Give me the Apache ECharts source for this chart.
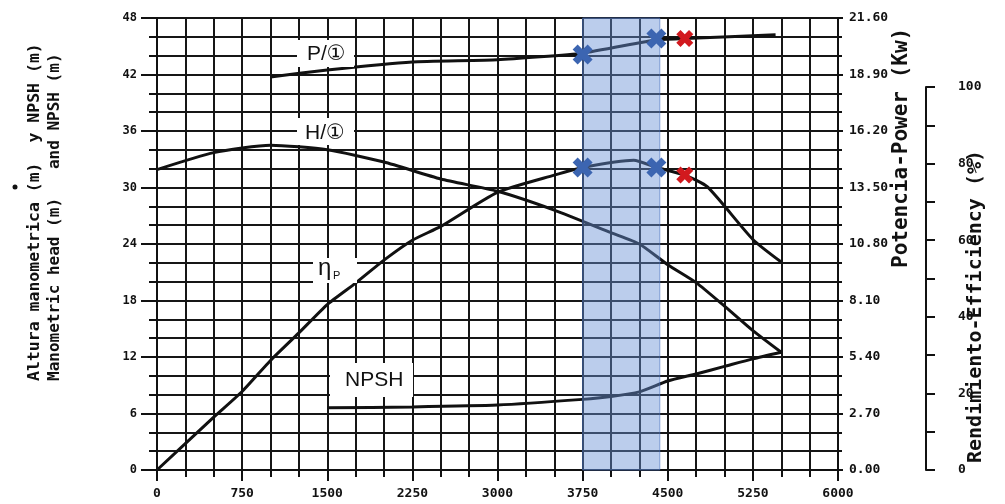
<!DOCTYPE html>
<html><head><meta charset="utf-8">
<script src="https://cdn.jsdelivr.net/npm/echarts@6/dist/echarts.min.js"></script>
<style>html,body{margin:0;padding:0;background:#fff}#c{width:1005px;height:504px}</style>
</head><body><div id="c"></div>
<script>
// Head curve H/1 (left axis, m)
const flowHead = [0, 500, 1000, 1500, 2000, 2500, 3000, 3500, 4000, 4250, 4500, 4750, 5000, 5250, 5500];
const head     = [31.9, 33.7, 34.5, 34.0, 32.7, 30.9, 29.6, 27.6, 25.2, 24.0, 21.8, 19.9, 17.4, 14.8, 12.5];
// NPSH curve (left axis, m)
const flowNpsh = [1500, 2250, 3000, 3750, 4000, 4250, 4500, 4750, 5000, 5250, 5500];
const npsh     = [6.6, 6.7, 6.9, 7.5, 7.8, 8.3, 9.45, 10.2, 11.0, 11.8, 12.5];
// Power curve P/1 (right axis, kW)
const flowPower = [1000, 1500, 2250, 3000, 3750, 4400, 4650, 5450];
const power     = [18.78, 19.12, 19.5, 19.6, 19.92, 20.56, 20.62, 20.8];
// Efficiency curve (outer right axis, %)
const flowEff = [0, 500, 750, 1000, 1250, 1500, 1750, 2000, 2250, 2500, 3000, 3500, 3750, 4200, 4400, 4650, 4850, 5250, 5500];
const eff     = [0, 13.8, 20.5, 28.6, 35.8, 43.2, 48.8, 54.8, 60.0, 63.6, 72.5, 77.0, 79.0, 80.9, 79.0, 77.0, 73.9, 60.2, 54.3];
// Highlighted operating points
const blueFlow = [3750, 4400];
const bluePower = [19.85, 20.62];
const blueEff = [79.0, 79.0];
const redFlow = [4650];
const redPower = [20.62];
const redEff = [77.0];
// Shaded band on flow axis
const bandFlow = [3750, 4430];

const zip = (a, b) => a.map((v, i) => [v, b[i]]);
const MONO = '"DejaVu Sans Mono", "Liberation Mono", monospace';
const SANS = '"Liberation Sans", "DejaVu Sans", "Noto Sans CJK SC", sans-serif';
const INK = '#111';
const GRID_LINE = { color: '#161616', width: 2 };
const XSYM = 'path://M0,2.5L2.5,0L5,2.5L7.5,0L10,2.5L7.5,5L10,7.5L7.5,10L5,7.5L2.5,10L0,7.5L2.5,5Z';
const curve = { color: INK, width: 3 };

const chart = echarts.init(document.getElementById('c'), null, { renderer: 'canvas' });
chart.setOption({
  animation: false,
  backgroundColor: '#fff',
  grid: [
    { left: 157, right: 167, top: 18, bottom: 34 },
    { left: 157, right: 167, top: 87, bottom: 34 }
  ],
  xAxis: [
    {
      gridIndex: 0, type: 'value', min: 0, max: 6000, interval: 750,
      axisLine: { onZero: false, lineStyle: { color: INK, width: 2 } },
      axisTick: { show: true, length: 11, lineStyle: { color: INK, width: 2 } },
      minorTick: { show: true, splitNumber: 3, length: 7, lineStyle: { color: INK, width: 2 } },
      splitLine: { show: true, lineStyle: GRID_LINE },
      minorSplitLine: { show: true, lineStyle: GRID_LINE },
      axisLabel: { fontFamily: MONO, fontWeight: 'bold', fontSize: 13, color: INK, margin: 17,
        formatter: v => String(v) }
    },
    { gridIndex: 1, type: 'value', min: 0, max: 6000, show: false }
  ],
  yAxis: [
    {
      gridIndex: 0, type: 'value', min: 0, max: 48, interval: 6,
      axisLine: { show: true, onZero: false, lineStyle: { color: INK, width: 2 } },
      axisTick: { show: true, length: 16, lineStyle: { color: INK, width: 2 } },
      minorTick: { show: true, splitNumber: 3, length: 8, lineStyle: { color: INK, width: 2 } },
      splitLine: { show: true, lineStyle: GRID_LINE },
      minorSplitLine: { show: true, lineStyle: GRID_LINE },
      axisLabel: { fontFamily: MONO, fontWeight: 'bold', fontSize: 12, color: INK, margin: 20,
        formatter: v => String(v) }
    },
    {
      gridIndex: 0, type: 'value', position: 'right', min: 0, max: 21.6, interval: 2.7,
      axisLine: { show: true, onZero: false, lineStyle: { color: INK, width: 2 } },
      axisTick: { show: true, length: 5, lineStyle: { color: INK, width: 2 } },
      minorTick: { show: true, splitNumber: 3, length: 4, lineStyle: { color: INK, width: 2 } },
      splitLine: { show: false },
      axisLabel: { fontFamily: MONO, fontWeight: 'bold', fontSize: 13, color: INK, margin: 11,
        formatter: v => v.toFixed(2) }
    },
    {
      gridIndex: 1, type: 'value', position: 'right', offset: 88, min: 0, max: 100, interval: 20,
      axisLine: { show: true, onZero: false, lineStyle: { color: INK, width: 2 } },
      axisTick: { show: true, length: 9, lineStyle: { color: INK, width: 2 } },
      minorTick: { show: true, splitNumber: 2, length: 9, lineStyle: { color: INK, width: 2 } },
      splitLine: { show: false },
      axisLabel: { fontFamily: MONO, fontWeight: 'bold', fontSize: 13, color: INK, margin: 32,
        formatter: v => String(v) }
    }
  ],
  series: [
    {
      name: 'H', type: 'line', xAxisIndex: 0, yAxisIndex: 0, data: zip(flowHead, head),
      symbol: 'none', smooth: 0.2, lineStyle: curve, z: 3,
      markArea: {
        silent: true, z: 4,
        itemStyle: { color: 'rgba(105,145,212,0.45)', borderColor: 'rgba(70,110,190,0.6)', borderWidth: 1 },
        data: [[{ xAxis: bandFlow[0] }, { xAxis: bandFlow[1] }]]
      }
    },
    { name: 'NPSH', type: 'line', xAxisIndex: 0, yAxisIndex: 0, data: zip(flowNpsh, npsh),
      symbol: 'none', smooth: 0.2, lineStyle: curve, z: 3 },
    { name: 'P', type: 'line', xAxisIndex: 0, yAxisIndex: 1, data: zip(flowPower, power),
      symbol: 'none', smooth: 0.15, lineStyle: curve, z: 3 },
    { name: 'eta', type: 'line', xAxisIndex: 1, yAxisIndex: 2, data: zip(flowEff, eff),
      symbol: 'none', smooth: 0.2, lineStyle: curve, z: 3 },
    { name: 'bluePower', type: 'scatter', xAxisIndex: 0, yAxisIndex: 1, data: zip(blueFlow, bluePower),
      symbol: XSYM, symbolSize: 20, itemStyle: { color: '#3c65b1', opacity: 1 }, z: 6 },
    { name: 'blueEff', type: 'scatter', xAxisIndex: 1, yAxisIndex: 2, data: zip(blueFlow, blueEff),
      symbol: XSYM, symbolSize: 20, itemStyle: { color: '#3c65b1', opacity: 1 }, z: 6 },
    { name: 'redPower', type: 'scatter', xAxisIndex: 0, yAxisIndex: 1, data: zip(redFlow, redPower),
      symbol: XSYM, symbolSize: 17, itemStyle: { color: '#d2191e', opacity: 1 }, z: 6 },
    { name: 'redEff', type: 'scatter', xAxisIndex: 1, yAxisIndex: 2, data: zip(redFlow, redEff),
      symbol: XSYM, symbolSize: 17, itemStyle: { color: '#d2191e', opacity: 1 }, z: 6 }
  ],
  graphic: [
    { type: 'circle', shape: { cx: 15, cy: 187, r: 2.5 }, style: { fill: INK }, z: 50 },
    { type: 'text', x: 35, y: 381, rotation: Math.PI / 2, z: 50,
      style: { text: 'Altura manometrica (m)  y NPSH (m)', fill: INK, font: 'bold 16.5px ' + MONO,
        align: 'left', verticalAlign: 'middle' } },
    { type: 'text', x: 55, y: 381, rotation: Math.PI / 2, z: 50,
      style: { text: 'Manometric head (m)   and NPSH (m)', fill: INK, font: 'bold 16px ' + MONO,
        align: 'left', verticalAlign: 'middle' } },
    { type: 'text', x: 902, y: 268, rotation: Math.PI / 2, z: 50,
      style: { text: 'Potencia-Power (Kw)', fill: INK, font: 'bold 21px ' + MONO,
        align: 'left', verticalAlign: 'middle' } },
    { type: 'text', x: 976, y: 463, rotation: Math.PI / 2, z: 50,
      style: { text: 'Rendimiento-Efficiency (%)', fill: INK, font: 'bold 20px ' + MONO,
        align: 'left', verticalAlign: 'middle' } },
    { type: 'rect', shape: { x: 297, y: 40, width: 57, height: 27 }, style: { fill: '#fff' }, z: 50 },
    { type: 'text', x: 307, y: 54, z: 51,
      style: { text: 'P/\u2460', fill: INK, font: '21px ' + SANS, align: 'left', verticalAlign: 'middle' } },
    { type: 'rect', shape: { x: 297, y: 118, width: 57, height: 27 }, style: { fill: '#fff' }, z: 50 },
    { type: 'text', x: 305, y: 133, z: 51,
      style: { text: 'H/\u2460', fill: INK, font: '21px ' + SANS, align: 'left', verticalAlign: 'middle' } },
    { type: 'rect', shape: { x: 313, y: 258, width: 44, height: 25 }, style: { fill: '#fff' }, z: 50 },
    { type: 'text', x: 318, y: 268, z: 51,
      style: { text: '\u03b7', fill: INK, font: '24px ' + SANS, align: 'left', verticalAlign: 'middle' } },
    { type: 'text', x: 333, y: 276, z: 51,
      style: { text: 'P', fill: INK, font: '11px ' + SANS, align: 'left', verticalAlign: 'middle' } },
    { type: 'rect', shape: { x: 330, y: 363, width: 83, height: 34 }, style: { fill: '#fff' }, z: 50 },
    { type: 'text', x: 345, y: 380, z: 51,
      style: { text: 'NPSH', fill: INK, font: '21px ' + SANS, align: 'left', verticalAlign: 'middle' } }
  ]
});
</script>
</body></html>
